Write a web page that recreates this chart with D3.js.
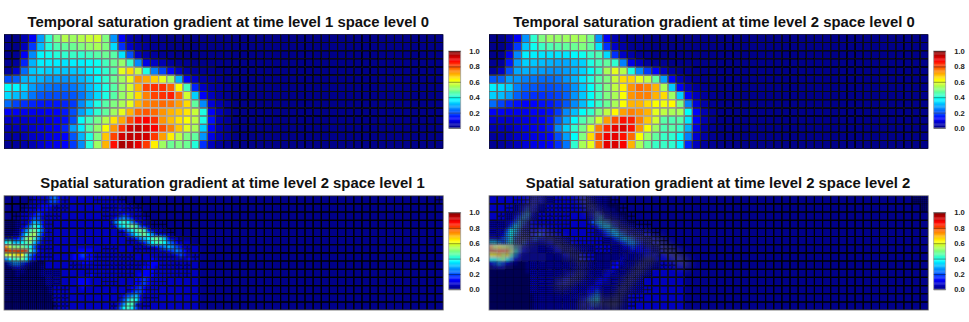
<!DOCTYPE html>
<html>
<head>
<meta charset="utf-8">
<script src="https://cdn.jsdelivr.net/npm/d3@7"></script>
<style>
  body { margin: 0; background: #fff; }
  svg { display: block; }
  text { font-family: "Liberation Sans", Arial, sans-serif; }
</style>
</head>
<body>
<svg id="chart" width="969" height="322"></svg>
<script>
const titles = [
  "Temporal saturation gradient at time level 1 space level 0",
  "Temporal saturation gradient at time level 2 space level 0",
  "Spatial saturation gradient at time level 2 space level 1",
  "Spatial saturation gradient at time level 2 space level 2"
];
const barTicks = [0, 0.2, 0.4, 0.6, 0.8, 1];

// temporal panels: percent per coarse cell, columns not listed are empty
const temporal1 = [
  [1,1,5,12,28,42,50,55,53,55,57,58,50,27,12,5,3,2,2,1,1,1,1,1,1,1,1,1],
  [1,1,6,18,31,41,45,47,48,50,52,54,50,34,17,7,4,3,2,2,1,1,1,1,1,1,1,1],
  [1,2,12,26,37,39,41,42,43,42,44,46,48,46,35,20,7,4,3,2,2,1,1,1,1,1,1,1],
  [2,3,16,30,36,36,36,35,36,36,37,39,44,48,52,43,26,10,7,5,3,2,2,1,1,1,1,1],
  [3,8,23,32,34,33,33,32,32,33,36,38,42,46,60,66,57,40,25,19,13,7,4,3,2,2,1,1],
  [20,22,30,31,30,28,28,27,28,30,33,37,42,48,53,60,73,71,67,60,53,30,12,7,4,3,2,1],
  [38,37,34,28,25,24,23,23,24,27,31,35,40,46,52,58,70,81,83,83,78,62,44,16,7,4,3,2],
  [34,31,30,24,21,20,20,20,21,24,29,34,40,46,52,57,66,75,81,83,85,77,58,33,12,6,3,2],
  [23,19,17,16,15,15,15,16,18,26,33,40,46,50,54,60,70,75,76,77,76,72,66,47,26,9,5,3],
  [12,12,11,11,11,12,13,15,20,28,34,42,47,53,60,70,77,79,77,73,70,68,65,57,40,12,6,3],
  [7,8,8,9,9,10,12,14,20,38,44,49,55,65,71,80,86,87,83,73,69,65,62,56,40,14,5,3],
  [5,6,7,8,10,11,12,16,28,36,46,52,62,73,83,92,94,91,88,80,75,68,60,54,33,12,5,3],
  [3,4,5,7,8,10,11,13,21,30,40,50,68,81,92,94,93,92,82,72,64,56,50,47,27,10,5,3],
  [2,3,4,5,8,10,11,13,18,26,41,53,70,86,96,94,90,82,64,53,48,50,48,41,17,6,3,2]
];
const temporal2 = [
  [1,1,5,12,27,42,50,53,52,53,54,53,49,27,12,5,3,2,2,1,1,1,1,1,1,1,1,1],
  [1,1,5,18,32,39,43,45,46,47,48,50,47,35,17,7,4,2,2,1,1,1,1,1,1,1,1,1],
  [1,2,11,26,36,36,35,35,35,35,37,39,43,45,34,17,7,4,2,2,1,1,1,1,1,1,1,1],
  [2,3,15,28,33,32,31,30,29,29,31,33,40,44,47,42,25,10,6,3,2,2,1,1,1,1,1,1],
  [3,7,20,29,30,29,28,27,27,28,30,33,38,43,54,60,55,40,26,18,13,7,4,2,2,1,1,1],
  [21,22,28,27,25,24,23,23,24,27,30,35,40,46,50,57,66,67,60,56,47,28,12,6,3,2,1,1],
  [36,35,33,25,22,21,20,20,21,23,27,32,38,44,50,56,64,73,77,75,70,54,32,12,6,3,2,1],
  [33,31,28,22,19,17,17,18,19,22,27,32,38,44,50,54,62,73,75,75,70,66,53,33,12,6,3,2],
  [23,19,16,14,13,13,14,15,17,21,26,31,37,43,48,54,62,70,70,66,62,61,63,50,25,9,4,2],
  [12,12,11,11,11,12,12,14,18,26,31,38,42,50,56,63,72,75,73,70,60,56,54,54,38,12,5,2],
  [8,8,8,9,10,11,12,15,22,29,37,45,50,58,72,80,86,85,75,68,58,46,45,46,35,12,5,2],
  [5,6,6,8,10,11,12,15,26,33,42,49,60,75,84,90,91,86,73,62,53,45,46,43,30,10,4,2],
  [3,4,5,7,9,10,11,13,20,28,38,50,66,80,89,90,86,77,62,53,47,43,42,38,25,8,4,2],
  [2,3,4,6,9,10,11,13,17,24,42,54,60,77,90,91,88,70,54,47,43,43,42,37,16,6,3,2]
];

// spatial panels: one digit per half cell, 0-f in sixteenths, rest of the row is empty
const spatial1 = [
  "000000011113421111111111111100",
  "00000001111332111111111111111100",
  "000000111222111111111111111111110",
  "00000111222111111111111111112111110",
  "00001112321111111111111111111221110",
  "00001123311111111111111111123432111",
  "00011125421111111111111111146764211",
  "000112476211111111111111111256787321",
  "000124786311111111111111111112467872111",
  "00113689521111111111111111111124678641111",
  "0012489741111111111111111111111124567875211",
  "6755678531111111111111111111111111246776432111",
  "c98887631111111111111111111111111111123454321111",
  "ffffff742111111111222211111111111111111123432111",
  "9a9ba7421111111112232211111111111111111111232111",
  "467786321111111112222211111111111111211111111211",
  "134432100011111111122111111111111112221111111111",
  "011210000111111111111111111111111122211111111111",
  "000110000111111111111111111111111122211111111111",
  "000100000111111111111211111111111222211111111111",
  "000000000011111111222111111111112232111111111111",
  "000000000011111111222111111111112232111111111111",
  "000000000001111111121111111111122321111111111111",
  "000000000001111111111111111111123321111111111111",
  "000000000000111111111111111112345211111111111111",
  "000000000000111111111111111113576211111111111111",
  "000000000000011111111111111124771111111111111111",
  "000000000000011111111111111136763111111111111111"
];
const spatial2 = [
  "1111111111122111111111111111100000000",
  "11111111112221111111111111111000000000",
  "111111111222111111111111111110000000000",
  "1111111123211111111111111221111000000000",
  "1111111234211111111111111232111100000000",
  "1111112343111111111111111234211110000000",
  "1111123431111111111111111345432111000000",
  "1111135421111111111111111124553211110000",
  "11113653111122111111111111123454211111000",
  "1112464211123211111111111111234543211111000",
  "1113463211232211111111111111112345432111100",
  "5543463232111122111111111111111123443211110",
  "c9a9985321111112211111111111111112232211111",
  "ffeed96321111111221111111111111111122222111",
  "aab9a7421111111111221111111111111111112221111",
  "66786421111111111111111111111111211111111211111",
  "234321100111111111111111111111122111111111111111",
  "011100000111111111111111111111221111111111111111",
  "000000000111111111111111111112211111111111111111",
  "000000000011111111122111111122111111111111111111",
  "000000000011111111221111111221111111111111111111",
  "000000000011111112211111112211111111111111111111",
  "000000000011111111111111122111111111111111111111",
  "000000000011111111111111223111111111111111111111",
  "000000000001111111111111234111111111111111111111",
  "000000000001111111111112345111111111111111111111",
  "000000000001111111111112233111111111111111111111",
  "000000000001111111111111221111111111111111111111"
];

// refinement level per coarse cell
const levels1 = [
  "000111110001111000000000000000000000000000000000000001",
  "001111110000111110",
  "011111100000111111",
  "221111000000011111110",
  "221111000000001111111",
  "111111000000000111111100",
  "111111000000110011111110",
  "111111000011111100111111",
  "222220001111111111011110",
  "222222200011111100111110",
  "22222220000011001111000",
  "22222211000000011110",
  "22222211000000111110",
  "22222211000001111100"
];
const levels2 = [
  "000112221111222100000000000000000000000000000000000022",
  "001222211111222210000000000000000000000000000000000002",
  "012222111100222221",
  "222221111100122222110",
  "222221111000122222211",
  "222222222211112222221100",
  "333333222222211222222110",
  "333333322221122222222",
  "333332222222222122222110",
  "33333222222222222222",
  "3333322222222222222",
  "33333222222222222221",
  "33333222222222222110",
  "33333222222222222100"
];

// centre lines of the grey haze in the last panel, in coarse cells
const hazeA = [[0, 6.3], [2.5, 6.6], [3.5, 5.6], [3.9, 4.4], [4.6, 2.2], [6, 0]];
const hazeB = [[3.4, 6.2], [4.6, 5.3], [6.5, 4.7], [9, 6.1], [11.5, 8]];
const hazeC = [[11.5, 0], [13.5, 2.5], [15.5, 3.5], [17.5, 4.8], [20.5, 5.7], [24, 8.3]];
const hazeD = [[15.5, 13.4], [16.6, 11.2], [18, 9.5], [20, 7.5]];
const hazeE = [[8.7, 11], [11.3, 9.6]];
const hazeF = [[11.5, 13.4], [13.5, 13], [15.5, 13.4]];

const jet = d3.scaleLinear()
  .domain([0, 0.125, 0.375, 0.625, 0.875, 1])
  .range(["#000080", "#0000ff", "#00ffff", "#ffff00", "#ff0000", "#800000"])
  .clamp(true);
const lineGray = d3.scalePow().exponent(0.7).domain([0, 1]).range([0, 215]);

const cols = 54, rows = 14;
const plotW = 439.3, plotH = 114.4;
const levelWidth = [1.1, 0.7, 0.42, 0.25];

const svg = d3.select("#chart");
const defs = svg.append("defs");
defs.append("filter").attr("id", "soft")
  .append("feGaussianBlur").attr("stdDeviation", 0.2);
defs.append("filter").attr("id", "field")
  .append("feGaussianBlur").attr("stdDeviation", 1);
defs.append("filter").attr("id", "haze")
  .attr("x", "-20%").attr("y", "-20%").attr("width", "140%").attr("height", "140%")
  .append("feGaussianBlur").attr("stdDeviation", 4);

const fineValue = (field, r, c) => {
  const row = field[r];
  if (!row || c >= row.length) return 0.01;
  const d = parseInt(row[c], 16);
  return d === 0 ? 0.01 : d / 16;
};

function gridPath(x, y, c, r, level) {
  const n = Math.pow(2, level);
  const p = d3.path();
  for (let i = 0; i <= n; i++) {
    p.moveTo(x(c + i / n), y(r));
    p.lineTo(x(c + i / n), y(r + 1));
    p.moveTo(x(c), y(r + i / n));
    p.lineTo(x(c + 1), y(r + i / n));
  }
  return p.toString();
}

function drawPanel(left, top, title, titleX, coarse, field, levelMap, haze) {
  const x = d3.scaleLinear().domain([0, cols]).range([left, left + plotW]);
  const y = d3.scaleLinear().domain([0, rows]).range([top, top + plotH]);

  const clipId = "clip" + left + "-" + Math.round(top);
  defs.append("clipPath").attr("id", clipId).append("rect")
    .attr("x", x(0)).attr("y", y(0)).attr("width", plotW).attr("height", plotH);
  const plot = svg.append("g").attr("clip-path", `url(#${clipId})`);

  plot.append("rect")
    .attr("x", x(0)).attr("y", y(0))
    .attr("width", plotW).attr("height", plotH)
    .attr("fill", jet(0.01));

  // coarse cell values used for the line colour
  const cells = [];
  for (let r = 0; r < rows; r++) {
    for (let c = 0; c < cols; c++) {
      let v;
      if (coarse) {
        v = (coarse[r][c] === undefined ? 1 : coarse[r][c]) / 100;
      } else {
        v = d3.mean([0, 1, 2, 3], i => fineValue(field, 2 * r + (i >> 1), 2 * c + (i & 1)));
      }
      const level = levelMap ? +(levelMap[r][c] || 0) : 0;
      cells.push({ r, c, v, level });
    }
  }

  const heat = plot.append("g").attr("filter", coarse ? "url(#soft)" : "url(#field)");
  if (coarse) {
    heat.selectAll("rect").data(cells).join("rect")
      .attr("x", d => x(d.c)).attr("y", d => y(d.r))
      .attr("width", x(1) - x(0) + 0.3).attr("height", y(1) - y(0) + 0.3)
      .attr("fill", d => jet(d.v));
  } else {
    const fine = [];
    field.forEach((row, r) => {
      for (let c = 0; c < row.length; c++) fine.push({ r, c, v: fineValue(field, r, c) });
    });
    heat.selectAll("rect").data(fine).join("rect")
      .attr("x", d => x(d.c / 2)).attr("y", d => y(d.r / 2))
      .attr("width", x(0.5) - x(0) + 0.3).attr("height", y(0.5) - y(0) + 0.3)
      .attr("fill", d => jet(d.v));
  }

  if (haze) {
    const line = d3.line().x(d => x(d[0])).y(d => y(d[1])).curve(d3.curveCatmullRom);
    plot.append("g")
      .attr("filter", "url(#haze)")
      .selectAll("path").data(haze).join("path")
      .attr("d", line)
      .attr("fill", "none")
      .attr("stroke", "#5c5c5c")
      .attr("stroke-width", 11)
      .attr("stroke-linecap", "round")
      .attr("opacity", 0.6);
  }

  plot.append("g").attr("filter", "url(#soft)")
    .selectAll("path").data(cells.slice().sort((a, b) => d3.ascending(a.v, b.v))).join("path")
    .attr("d", d => gridPath(x, y, d.c, d.r, d.level))
    .attr("fill", "none")
    .attr("stroke", d => { const g = coarse || d.level === 3 ? lineGray(d.v) : lineGray(d.v) * 0.5; return d3.rgb(g, g, g); })
    .attr("stroke-width", d => levelWidth[d.level]);

  if (!coarse) {
    svg.append("rect")
      .attr("x", x(0)).attr("y", y(0))
      .attr("width", plotW).attr("height", plotH)
      .attr("fill", "none").attr("stroke", "#808080").attr("stroke-width", 0.8);
  }

  svg.append("text")
    .attr("x", titleX).attr("y", top - 7.8)
    .attr("text-anchor", "middle")
    .attr("font-size", 14.85).attr("font-weight", "bold")
    .attr("fill", "#111")
    .text(title);

  // colour bar
  const barX = left + 444.7, barW = 12;
  const barY = d3.scaleLinear().domain([0, 1]).range([top + 93.7, top + 16.7]);
  const bands = d3.range(64);
  const bar = svg.append("g");
  bar.selectAll("rect").data(bands).join("rect")
    .attr("x", barX).attr("width", barW)
    .attr("y", i => barY((i + 1) / 64))
    .attr("height", barY(0) - barY(1 / 64) + 0.2)
    .attr("fill", i => jet((i + 0.5) / 64));
  bar.append("rect")
    .attr("x", barX).attr("y", barY(1))
    .attr("width", barW).attr("height", barY(0) - barY(1))
    .attr("fill", "none").attr("stroke", "#a0a0a0").attr("stroke-width", 0.8);

  const axis = svg.append("g")
    .attr("transform", `translate(${barX + barW},0)`)
    .call(d3.axisRight(barY).tickValues(barTicks).tickFormat(d3.format(".1f")).tickSize(-barW).tickPadding(8.5));
  axis.select(".domain").remove();
  axis.selectAll(".tick line").attr("stroke", "#000").attr("stroke-opacity", 0.55).attr("stroke-width", 0.7);
  axis.selectAll(".tick text")
    .attr("font-family", '"Liberation Sans", Arial, sans-serif')
    .attr("font-size", 7.6).attr("font-weight", "bold")
    .attr("fill", "#222");
}

drawPanel(4, 34.3, titles[0], 228.3, temporal1, null, null, null);
drawPanel(489, 34.3, titles[1], 714, temporal2, null, null, null);
drawPanel(4, 195.7, titles[2], 232.5, null, spatial1, levels1, null);
drawPanel(489, 195.7, titles[3], 718, null, spatial2, levels2, [hazeA, hazeB, hazeC, hazeD, hazeE, hazeF]);
</script>
</body>
</html>
